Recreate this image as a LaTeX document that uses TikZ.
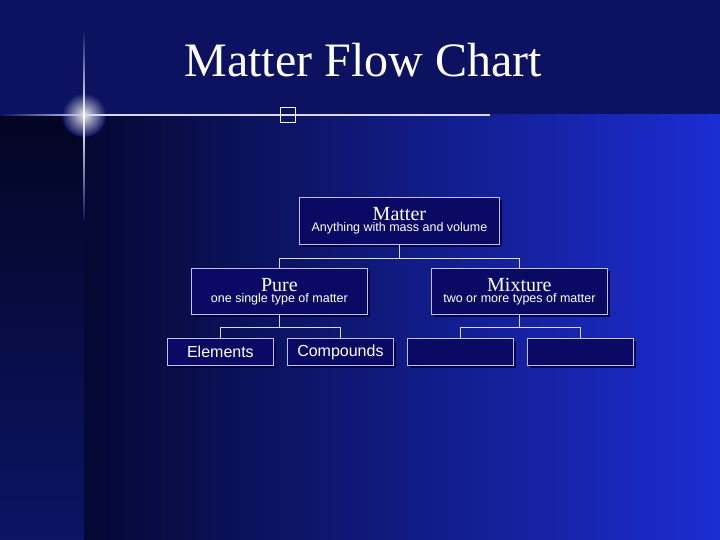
\documentclass[tikz,border=0pt]{standalone}
\usepackage{fontspec}
\setmainfont{Liberation Serif}
\setsansfont{Liberation Sans}
\definecolor{navy}{RGB}{12,18,95}
\definecolor{dark}{RGB}{5,8,50}
\definecolor{darker}{RGB}{3,5,35}
\definecolor{bright}{RGB}{28,45,210}
\definecolor{boxfill}{RGB}{10,10,100}
\definecolor{midnavy}{RGB}{12,20,100}
\begin{document}
\begin{tikzpicture}[x=1pt,y=-1pt,
  box/.style={draw=white!75!blue, line width=0.8pt, fill=boxfill, minimum height=#1, inner sep=0pt, anchor=north west, align=center, text=white},
  box/.default=47,
  conn/.style={draw=white!85!blue, line width=0.8pt},
  shad/.style={fill=black!80!blue, opacity=0.8}]
\useasboundingbox (0,0) rectangle (720,540);
\fill[navy] (0,0) rectangle (720,540);
\shade[left color=dark, right color=bright] (84,115) rectangle (720,540);
\shade[top color=darker, bottom color=midnavy] (0,115) rectangle (84,540);
% star
\shade[inner color=white, outer color=navy, opacity=0.9] (84,115) circle (22);
\shade[left color=navy, right color=white!80!blue] (0,114.3) rectangle (84,115.7);
\fill[white!85!blue] (84,114.4) rectangle (490,115.6);
\shade[top color=navy, bottom color=white] (83.3,30) rectangle (84.7,115);
\shade[top color=white, bottom color=midnavy] (83.3,115) rectangle (84.7,220);
\node[text=white, font=\fontsize{48}{50}\selectfont] (title) at (363,60) {Matter Flow Chart};
\node[draw=white, line width=1.2pt, minimum size=15pt, inner sep=0pt] (sq) at (288,115) {};
% shadows
\foreach \x/\y/\w/\h in {299/197/200/47, 191/268/176/46, 431/268/176/46, 167/338/106/27, 287/338/106/27, 407/338/106/27, 527/338/106/27}
  \fill[shad] (\x+3,\y+3) rectangle (\x+\w+3,\y+\h+3);
\node[box=47, minimum width=200] (matter) at (299,197) {{\fontsize{20}{22}\selectfont Matter}\\[-1pt]{\sffamily\fontsize{12.5}{14}\selectfont Anything with mass and volume}};
\node[box=46, minimum width=176] (pure) at (191,268) {{\fontsize{20}{22}\selectfont Pure}\\[-1pt]{\sffamily\fontsize{12.5}{14}\selectfont one single type of matter}};
\node[box=46, minimum width=176] (mix) at (431,268) {{\fontsize{20}{22}\selectfont Mixture}\\[-1pt]{\sffamily\fontsize{12.5}{14}\selectfont two or more types of matter}};
\node[box=27, minimum width=106, font=\sffamily\fontsize{16}{18}\selectfont] (el) at (167,338) {Elements};
\node[box=27, minimum width=106, font=\sffamily\fontsize{16}{18}\selectfont] (co) at (287,338) {Compounds};
\node[box=27, minimum width=106] (b1) at (407,338) {};
\node[box=27, minimum width=106] (b2) at (527,338) {};
\draw[conn] (matter.south) -- ++(0,14) -| (pure.north);
\draw[conn] (matter.south) -- ++(0,14) -| (mix.north);
\draw[conn] (pure.south) -- ++(0,13) -| (el.north);
\draw[conn] (pure.south) -- ++(0,13) -| (co.north);
\draw[conn] (mix.south) -- ++(0,13) -| (b1.north);
\draw[conn] (mix.south) -- ++(0,13) -| (b2.north);
\end{tikzpicture}
\end{document}
